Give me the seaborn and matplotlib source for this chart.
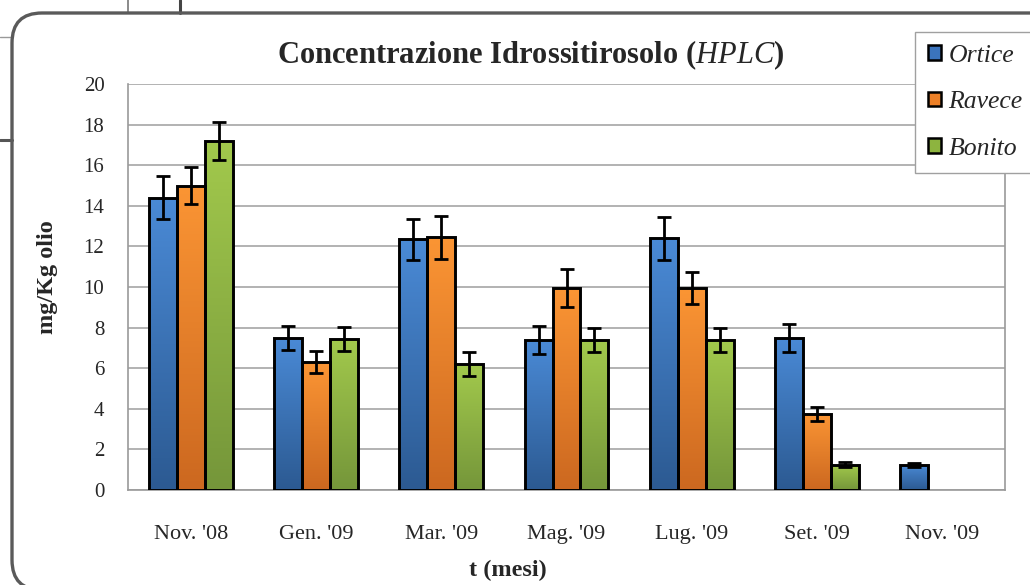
import numpy as np
import pandas as pd
import matplotlib
matplotlib.use("Agg")
import matplotlib.pyplot as plt
import seaborn as sns
from matplotlib.colors import LinearSegmentedColormap
from matplotlib.patches import FancyBboxPatch
from matplotlib.lines import Line2D

# data
mesi = ["Nov. '08", "Gen. '09", "Mar. '09", "Mag. '09", "Lug. '09", "Set. '09", "Nov. '09"]
cultivar = ["Ortice", "Ravece", "Bonito"]
ortice = [14.4, 7.5, 12.35, 7.4, 12.4, 7.5, 1.25]
ravece = [15.0, 6.3, 12.45, 9.95, 9.95, 3.75, np.nan]
bonito = [17.2, 7.45, 6.2, 7.4, 7.4, 1.25, np.nan]
err_ortice = [1.05, 0.6, 1.0, 0.7, 1.05, 0.7, 0.1]
err_ravece = [0.9, 0.55, 1.05, 0.95, 0.8, 0.35, np.nan]
err_bonito = [0.95, 0.6, 0.6, 0.6, 0.6, 0.12, np.nan]

values = {"Ortice": ortice, "Ravece": ravece, "Bonito": bonito}
errors = {"Ortice": err_ortice, "Ravece": err_ravece, "Bonito": err_bonito}

df = pd.DataFrame({
    "mese": mesi * 3,
    "cultivar": [c for c in cultivar for _ in mesi],
    "valore": ortice + ravece + bonito,
})

# (top, bottom) gradient colours per series
grad = {
    "Ortice": ("#4a8ad6", "#2c5a92"),
    "Ravece": ("#fb9534", "#cc6820"),
    "Bonito": ("#a2c94c", "#75963a"),
}
mid = {"Ortice": "#3b74bd", "Ravece": "#ed8027", "Bonito": "#8db43f"}

sns.set_style("white")
plt.rcParams["font.family"] = ["Liberation Serif", "DejaVu Serif"]
plt.rcParams["mathtext.fontset"] = "custom"
plt.rcParams["mathtext.it"] = "Liberation Serif:italic"
plt.rcParams["mathtext.rm"] = "Liberation Serif"

fig = plt.figure(figsize=(10.3, 5.85), dpi=100)
ax = fig.add_axes([128 / 1030, 1 - 490 / 585, 877 / 1030, 406 / 585])

sns.barplot(data=df, x="mese", y="valore", hue="cultivar", order=mesi,
            hue_order=cultivar, palette=mid, width=0.67, errorbar=None,
            edgecolor="black", linewidth=2.1, ax=ax, legend=False, zorder=3)

# gradient fill + error bars
for cont, name in zip(ax.containers, cultivar):
    cmap = LinearSegmentedColormap.from_list(name, [grad[name][1], grad[name][0]])
    for bar in cont:
        h = bar.get_height()
        if not np.isfinite(h) or h == 0:
            continue
        x0 = bar.get_x()
        w = bar.get_width()
        im = ax.imshow(np.linspace(0, 1, 100).reshape(-1, 1), cmap=cmap,
                       origin="lower", aspect="auto",
                       extent=[x0, x0 + w, 0, h], zorder=3.1)
        im.set_clip_path(bar)
        bar.set_facecolor("none")
        bar.set_zorder(3.2)
        i = int(round(x0 + w / 2))
        ax.errorbar(x0 + w / 2, values[name][i], yerr=errors[name][i],
                    fmt="none", ecolor="black", elinewidth=2.0, capsize=5,
                    capthick=2.0, zorder=4)

ax.set_xlim(-0.5, 6.5)
ax.set_ylim(0, 20)
ax.set_yticks(range(0, 21, 2))
ax.yaxis.grid(True, color="#a6a6a6", linewidth=1.2, zorder=0)
ax.set_axisbelow(True)
for s in ["left", "bottom", "right"]:
    ax.spines[s].set_visible(True)
    ax.spines[s].set_color("#9a9a9a")
    ax.spines[s].set_linewidth(1.2)
ax.spines["top"].set_visible(False)
ax.tick_params(axis="y", length=7, width=1.2, color="#9a9a9a", labelsize=15, pad=10)
ax.tick_params(axis="x", length=0, labelsize=16, pad=25)
ax.set_xlabel("")
ax.set_ylabel("")

fig.text(48 / 1030, 1 - 277 / 585, "mg/Kg olio", ha="center", va="center",
         rotation=90, fontsize=17.5, fontweight="bold")
fig.text(508 / 1030, 1 - 570 / 585, "t (mesi)", ha="center", va="center",
         fontsize=17.5, fontweight="bold")
fig.text(531 / 1030, 1 - 55 / 585,
         r"Concentrazione Idrossitirosolo ($\mathit{HPLC}$)",
         ha="center", va="center", fontsize=22, fontweight="bold")

handles = [plt.Rectangle((0, 0), 1, 1, facecolor=mid[c], edgecolor="black", linewidth=1.8)
           for c in cultivar]
leg = fig.legend(handles, cultivar, loc="upper left",
                 bbox_to_anchor=(915 / 1030, 1 - 32 / 585),
                 prop={"family": "Liberation Serif", "style": "italic", "size": 18.5},
                 handlelength=0.5, handleheight=0.5, handletextpad=0.3,
                 labelspacing=0.95, borderpad=0.5, fancybox=False,
                 edgecolor="#a0a0a0", framealpha=1, borderaxespad=0)
leg.get_frame().set_linewidth(1.0)

# outer rounded frame
frame = FancyBboxPatch((0.12, -0.05), 12, 5.72 + 0.05,
                       boxstyle="round,pad=0,rounding_size=0.3",
                       transform=fig.dpi_scale_trans, facecolor="none",
                       edgecolor="#5a5a5a", linewidth=2.4, zorder=10)
fig.patches.append(frame)

# cropped-document edges at top-left
fig.add_artist(Line2D([128 / 1030, 128 / 1030], [1, 1 - 13 / 585], color="#777777", lw=1.2))
fig.add_artist(Line2D([180 / 1030, 180 / 1030], [1, 1 - 13 / 585], color="#444444", lw=2.2))
fig.add_artist(Line2D([0, 12 / 1030], [1 - 37 / 585, 1 - 37 / 585], color="#999999", lw=1.0))
fig.add_artist(Line2D([0, 12 / 1030], [1 - 140 / 585, 1 - 140 / 585], color="#555555", lw=2.2))

fig.savefig("out.png", dpi=100)
